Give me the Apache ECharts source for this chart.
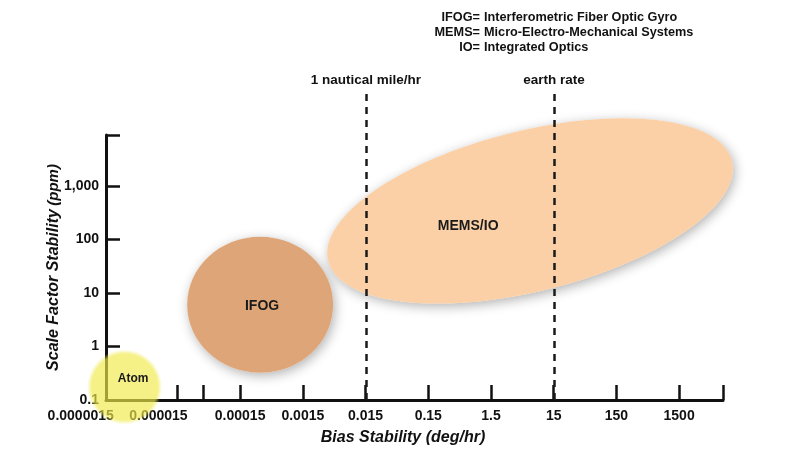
<!DOCTYPE html>
<html>
<head>
<meta charset="utf-8">
<title>Gyro technologies</title>
<script src="https://cdn.jsdelivr.net/npm/echarts@6/dist/echarts.min.js"></script>
<style>
  html, body { margin: 0; padding: 0; background: #fff; }
  #chart { width: 797px; height: 455px; }
</style>
</head>
<body>
<div id="chart"></div>
<script>
// axis range (deg/hr and ppm)
const xMin = 0.00000109;
const xMax = 7520;
const yMin = 0.1;
const yMax = 8900;

// tick labels
const xLabels = ['0.0000015', '0.000015', '0.00015', '0.0015', '0.015', '0.15', '1.5', '15', '150', '1500'];
const xTickValues = [0.000015, 0.000039, 0.00015, 0.0015, 0.015, 0.15, 1.5, 15, 150, 1500, xMax];
const yLabels = ['0.1', '1', '10', '100', '1,000'];
const yTickValues = [1, 10, 100, 1000, yMax];

// technology regions: centre, half size in decades, tilt (deg), label spot
const blobNames = ['Atom', 'IFOG', 'MEMS/IO'];
const blobCenterX = [0.00000216, 0.000313, 6.33];
const blobCenterY = [0.175, 6.0, 340];
const blobSpanX = [0.66, 1.164, 3.317];
const blobSpanY = [0.7, 1.27, 1.5];
const blobTilt = [0, 0, 13.9];
const blobLabelX = [0.00000295, 0.000336, 0.65];
const blobLabelY = [0.25, 5.7, 178];
const blobColors = ['rgba(240,234,72,0.66)', '#dea678', 'rgba(251,200,151,0.86)'];

// reference rates
const refValues = [0.015, 15];
const refNames = ['1 nautical mile/hr', 'earth rate'];

// glossary
const glossTerms = ['IFOG=', 'MEMS=', 'IO='];
const glossText = ['Interferometric Fiber Optic Gyro', 'Micro-Electro-Mechanical Systems', 'Integrated Optics'];

const lg = Math.log10;
const FONT = 'Liberation Sans, Arial, sans-serif';

function labelIndex(labels, v) {
  for (let i = 0; i < labels.length; i++) {
    if (Math.abs(lg(parseFloat(labels[i].replace(',', ''))) - v) < 1e-6) return i;
  }
  return -1;
}

const blobData = blobNames.map((n, i) => ({
  name: n,
  value: [lg(blobCenterX[i]), lg(blobCenterY[i]), blobSpanX[i], blobSpanY[i], blobTilt[i], lg(blobLabelX[i]), lg(blobLabelY[i])]
}));

function blobGeom(api) {
  const cx = api.value(0), cy = api.value(1);
  const c = api.coord([cx, cy]);
  return {
    c: c,
    rx: api.coord([cx + api.value(2), cy])[0] - c[0],
    ry: c[1] - api.coord([cx, cy + api.value(3)])[1],
    rot: api.value(4) * Math.PI / 180
  };
}

// soft drop shadow, drawn under the dashed lines
function renderShadow(params, api) {
  if (params.dataIndex === 0) return null;
  const g = blobGeom(api);
  return {
    type: 'ellipse',
    x: g.c[0], y: g.c[1], rotation: g.rot,
    shape: { cx: 0, cy: 0, rx: g.rx, ry: g.ry },
    style: {
      fill: '#fff',
      shadowBlur: 12,
      shadowColor: 'rgba(0,0,0,0.3)',
      shadowOffsetX: 2,
      shadowOffsetY: 3
    }
  };
}

function renderBlob(params, api) {
  const i = params.dataIndex;
  const g = blobGeom(api);
  const l = api.coord([api.value(5), api.value(6)]);
  const isAtom = i === 0;
  const fill = isAtom ? {
    type: 'radial', x: 0.5, y: 0.5, r: 0.5,
    colorStops: [
      { offset: 0, color: blobColors[0] },
      { offset: 0.88, color: blobColors[0] },
      { offset: 1, color: 'rgba(240,234,72,0)' }
    ]
  } : blobColors[i];
  return {
    type: 'group',
    children: [
      {
        type: 'ellipse',
        x: g.c[0], y: g.c[1], rotation: g.rot,
        shape: { cx: 0, cy: 0, rx: g.rx, ry: g.ry },
        style: { fill: fill }
      },
      {
        type: 'text',
        x: l[0],
        y: l[1],
        style: {
          text: blobNames[i],
          fill: '#1a1a1a',
          font: 'bold ' + (isAtom ? 12 : 14) + 'px ' + FONT,
          align: 'center',
          verticalAlign: 'middle'
        }
      }
    ]
  };
}

const glossGraphics = [];
for (let i = 0; i < glossTerms.length; i++) {
  glossGraphics.push({
    type: 'text', x: 480, y: 17 + i * 15,
    style: { text: glossTerms[i], fill: '#111', font: 'bold 12.7px ' + FONT, align: 'right', verticalAlign: 'middle' }
  });
  glossGraphics.push({
    type: 'text', x: 484, y: 17 + i * 15,
    style: { text: glossText[i], fill: '#111', font: 'bold 12.7px ' + FONT, align: 'left', verticalAlign: 'middle' }
  });
}

const axisLine = { show: true, onZero: false, lineStyle: { color: '#111', width: 3 } };
const tickFont = { color: '#111', fontWeight: 'bold', fontSize: 14, fontFamily: FONT };

const option = {
  animation: false,
  backgroundColor: '#fff',
  textStyle: { fontFamily: FONT },
  graphic: glossGraphics,
  grid: [
    { left: 106, right: 74, top: 135, bottom: 55 },
    { left: 106, right: 74, top: 93, bottom: 55 }
  ],
  xAxis: [
    {
      type: 'value',
      gridIndex: 0,
      min: lg(xMin),
      max: lg(xMax),
      axisLine: axisLine,
      axisTick: {
        show: true, inside: true, length: 15,
        customValues: xTickValues.map(lg),
        lineStyle: { color: '#111', width: 2.5 }
      },
      axisLabel: Object.assign({
        customValues: xLabels.map(v => lg(parseFloat(v))),
        formatter: v => {
          const i = labelIndex(xLabels, v);
          if (i < 0) return '';
          // the two leftmost labels sit left of their ticks in the original
          if (i === 0) return '{s0|' + xLabels[i] + '}';
          if (i === 1) return '{s1|' + xLabels[i] + '}';
          return xLabels[i];
        },
        margin: 9,
        rich: {
          s0: Object.assign({ padding: [0, 68, 0, 0] }, tickFont),
          s1: Object.assign({ padding: [0, 38, 0, 0] }, tickFont)
        }
      }, tickFont),
      splitLine: { show: false },
      name: 'Bias Stability (deg/hr)',
      nameLocation: 'middle',
      nameGap: 30,
      nameMoveOverlap: false,
      nameTextStyle: {
        color: '#111', fontSize: 16, fontWeight: 'bold', fontStyle: 'italic', fontFamily: FONT,
        padding: [0, 23, 0, 0]
      }
    },
    {
      type: 'value', gridIndex: 1, min: lg(xMin), max: lg(xMax), show: false
    }
  ],
  yAxis: [
    {
      type: 'value',
      gridIndex: 0,
      min: lg(yMin),
      max: lg(yMax),
      axisLine: axisLine,
      axisTick: {
        show: true, inside: true, length: 14,
        customValues: yTickValues.map(lg),
        lineStyle: { color: '#111', width: 2.5 }
      },
      axisLabel: Object.assign({
        customValues: yLabels.map(v => lg(parseFloat(v.replace(',', '')))),
        formatter: v => {
          const i = labelIndex(yLabels, v);
          return i < 0 ? '' : yLabels[i];
        },
        margin: 7
      }, tickFont),
      splitLine: { show: false },
      name: '{a|Scale Factor Stability} {b|(ppm)}',
      nameLocation: 'middle',
      nameGap: 44,
      nameMoveOverlap: false,
      nameTextStyle: {
        rich: {
          a: { color: '#111', fontSize: 16, fontWeight: 'bold', fontStyle: 'italic', fontFamily: FONT },
          b: { color: '#111', fontSize: 15, fontWeight: 'bold', fontStyle: 'italic', fontFamily: FONT }
        }
      }
    },
    {
      type: 'value', gridIndex: 1, min: 0, max: 1, show: false
    }
  ],
  series: [
    {
      type: 'custom',
      xAxisIndex: 0,
      yAxisIndex: 0,
      z: 1,
      silent: true,
      clip: false,
      renderItem: renderShadow,
      data: blobData
    },
    {
      // reference rate lines
      type: 'line',
      xAxisIndex: 1,
      yAxisIndex: 1,
      data: [],
      z: 2,
      silent: true,
      markLine: {
        symbol: 'none',
        silent: true,
        lineStyle: { color: '#1a1a1a', width: 2.5, type: [7, 6] },
        label: {
          show: true,
          position: 'end',
          distance: 6,
          formatter: p => p.name,
          color: '#111',
          fontWeight: 'bold',
          fontSize: 13.5,
          fontFamily: FONT
        },
        data: refValues.map((v, i) => ({ name: refNames[i], xAxis: lg(v) }))
      }
    },
    {
      type: 'custom',
      xAxisIndex: 0,
      yAxisIndex: 0,
      z: 3,
      silent: true,
      clip: false,
      renderItem: renderBlob,
      data: blobData
    }
  ]
};

const chart = echarts.init(document.getElementById('chart'), null, { renderer: 'canvas' });
chart.setOption(option);
</script>
</body>
</html>
